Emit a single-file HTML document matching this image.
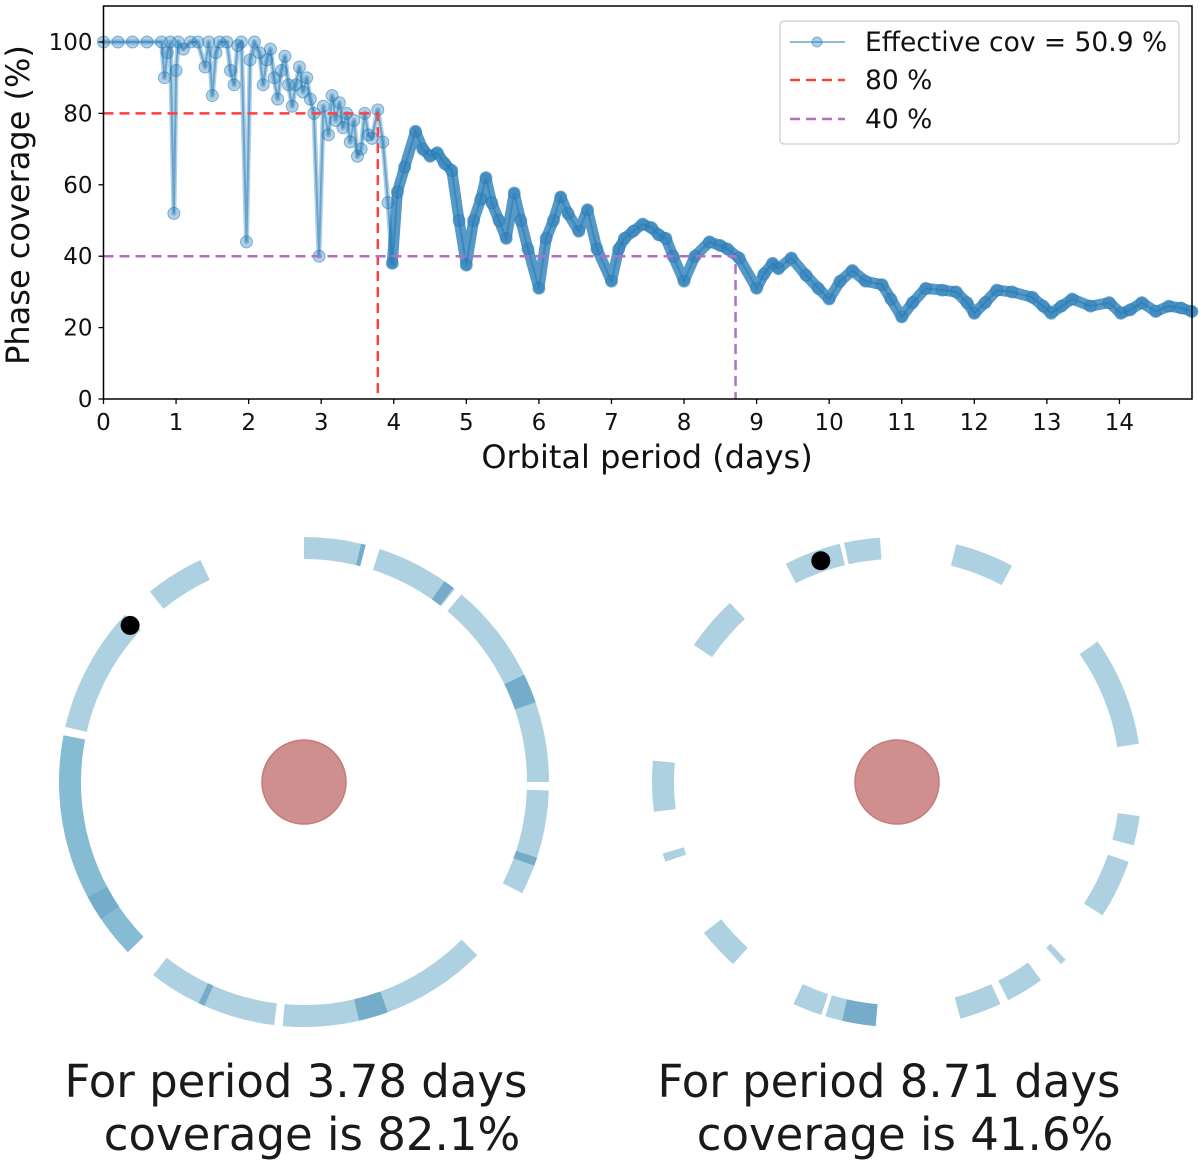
<!DOCTYPE html>
<html><head><meta charset="utf-8">
<style>
html,body{margin:0;padding:0;background:#fff;}
svg{display:block;font-family:"DejaVu Sans","Liberation Sans",sans-serif;}
</style></head>
<body>
<svg id="fig" width="1200" height="1169" viewBox="0 0 1200 1169" xmlns="http://www.w3.org/2000/svg">
<g id="chart"></g>
<g id="orbits"></g>
<text x="296" y="1097" font-size="45" text-anchor="middle" fill="#1a1a1a">For period 3.78 days</text>
<text x="312" y="1150" font-size="45" text-anchor="middle" fill="#1a1a1a">coverage is 82.1%</text>
<text x="889" y="1097" font-size="45" text-anchor="middle" fill="#1a1a1a">For period 8.71 days</text>
<text x="905" y="1150" font-size="45" text-anchor="middle" fill="#1a1a1a">coverage is 41.6%</text>
</svg>
<script>
const periods = [0,0.2,0.4,0.6,0.8,0.84,0.88,0.92,0.97,1.0,1.03,1.1,1.2,1.3,1.4,1.45,1.5,1.55,1.6,1.7,1.75,1.8,1.85,1.9,1.97,2.02,2.08,2.15,2.2,2.25,2.3,2.35,2.4,2.45,2.5,2.55,2.6,2.65,2.7,2.75,2.8,2.85,2.9,2.97,3.03,3.1,3.15,3.2,3.25,3.3,3.35,3.4,3.45,3.5,3.55,3.6,3.65,3.7,3.78,3.85,3.92,3.98,4.05,4.15,4.3,4.4,4.5,4.6,4.7,4.8,4.9,5.0,5.1,5.2,5.27,5.35,5.45,5.55,5.66,5.75,5.85,6.0,6.1,6.2,6.3,6.4,6.55,6.67,6.8,7.0,7.1,7.18,7.3,7.43,7.55,7.65,7.75,7.85,8.0,8.15,8.35,8.5,8.6,8.76,9.0,9.1,9.22,9.3,9.48,9.68,9.85,10.0,10.15,10.32,10.5,10.73,10.85,11.0,11.15,11.33,11.56,11.75,11.9,12.0,12.15,12.31,12.52,12.8,12.95,13.06,13.2,13.35,13.6,13.86,14.02,14.15,14.31,14.5,14.68,14.85,15.0];
const coverage = [100,100,100,100,100,90,97,100,52,92,100,98,100,100,93,100,85,97,100,100,92,88,99,100,44,95,100,97,88,95,98,90,84,92,96,88,82,88,93,86,90,84,80,40,82,74,85,78,83,76,80,72,78,68,70,80,74,73,81,72,55,38,58,65,75,70,68,69,66,64,50,37.5,50,56,62,55,50,45,57.7,50,42,31,45,50,56.6,52,47,53,42,33,42,45,47,49,48,46,45,40,33,40,44,43,42,39.5,31,35,38,36.5,39.5,34.7,31,28,33,36,33,32,28,23,27,31,30.5,30,27,24,27,30.5,30,28.5,26,24,26,28,26,27,24,25,27,24.5,26,25.5,24.5];
const xTicks = [0,1,2,3,4,5,6,7,8,9,10,11,12,13,14];
const yTicks = [0,20,40,60,80,100];
const refLevels = [80,40];
const refPeriods = [3.78,8.71];
const refColors = ["#ff4040","#b46fc4"];
const legendLabels = ["Effective cov = 50.9 %","80 %","40 %"];

const leftArcs = [[0,14,0],[13.5,14.6,2],[18,38,0],[35,37.6,2],[40,90,0],[64,71,2],[92,117,0],[108,110,2],[135,185,0],[160,167,2],[187,218,0],[204,205.5,2],[226,281,1],[236,242,2],[283,313,0],[321,335,0]];
const rightArcs = [[333,346.5,0],[347.5,356,0],[14,28,0],[55,81,0],[98,105,0],[109,123,0],[136.5,138,0],[144,153,0],[155,165,0],[185,193,2],[193,197,0],[198,205,0],[222,232,0],[251,253,0],[263,275,0],[304,317,0]];
const leftDot = 312, rightDot = 341;

const NS = "http://www.w3.org/2000/svg";
function mk(tag, attrs, parent){const e=document.createElementNS(NS,tag);for(const k in attrs)e.setAttribute(k,attrs[k]);parent.appendChild(e);return e;}
const X0=103.5,X1=1192,Y0=399,Y1=6;
const xs = p => X0 + p*(X1-X0)/15;
const ys = c => Y0 - c*(Y0-42)/100;
const chart = document.getElementById('chart');

const pathOf = idx => idx.map((i,k)=>(k?'L':'M')+xs(periods[i]).toFixed(1)+','+ys(coverage[i]).toFixed(1)).join(' ');
const all = periods.map((p,i)=>i);
const early = all.filter(i=>periods[i]<=4.0);
const late = all.filter(i=>periods[i]>=3.98);
const bandE = mk('path',{d:pathOf(early),fill:'none',stroke:'#1f77b4','stroke-width':5,'stroke-opacity':0.35,'stroke-linejoin':'round','stroke-linecap':'round'},chart);


const bandL = mk('path',{d:pathOf(late),fill:'none',stroke:'#1f77b4','stroke-width':11,'stroke-opacity':0.75,'stroke-linejoin':'round','stroke-linecap':'round'},chart);


const line = mk('path',{d:pathOf(all),fill:'none',stroke:'#1f77b4','stroke-width':2,'stroke-opacity':0.5},chart);


periods.forEach((p,i)=>{
  const c = mk('circle',{cx:xs(p),cy:ys(coverage[i]),r:6,fill:'#1f77b4','fill-opacity':0.35,stroke:'#1f77b4','stroke-opacity':0.5,'stroke-width':1},chart);
  
  
});
refLevels.forEach((lv,i)=>{
  const h = mk('path',{d:`M${X0},${ys(lv)} H${xs(refPeriods[i])} V${Y0}`,fill:'none',stroke:refColors[i],'stroke-width':2.5,'stroke-dasharray':'10,6'},chart);
  
  
});
const fr = mk('rect',{x:X0,y:Y1,width:X1-X0,height:Y0-Y1,fill:'none',stroke:'#000','stroke-width':1.5},chart);


xTicks.forEach(t=>{
  const tk = mk('line',{x1:xs(t),x2:xs(t),y1:Y0,y2:Y0+5,stroke:'#000','stroke-width':1.3},chart);
  
  
  const tl = mk('text',{x:xs(t),y:Y0+31,'font-size':23,'text-anchor':'middle',fill:'#111'},chart);
  tl.textContent = t;
  
  
});
yTicks.forEach(t=>{
  const tk = mk('line',{x1:X0-5,x2:X0,y1:ys(t),y2:ys(t),stroke:'#000','stroke-width':1.3},chart);
  
  
  const tl = mk('text',{x:X0-11,y:ys(t)+8,'font-size':23,'text-anchor':'end',fill:'#111'},chart);
  tl.textContent = t;
  
  
});
const xt = mk('text',{x:647,y:468,'font-size':32,'text-anchor':'middle',fill:'#111'},chart);
xt.textContent='Orbital period (days)';


const yt = mk('text',{x:0,y:0,'font-size':32,'text-anchor':'middle',fill:'#111',transform:'translate(29,205) rotate(-90)'},chart);
yt.textContent='Phase coverage (%)';


const lg = mk('g',{},chart);


mk('rect',{x:780,y:21,width:399,height:123,rx:4,fill:'#fff','fill-opacity':0.85,stroke:'#ccc','stroke-width':1.2},lg);
const ly=[42,80,119];
legendLabels.forEach((lab,i)=>{
  const e = mk('g',{},lg);
  
  
  if(i==0){
    mk('line',{x1:790,x2:845,y1:ly[i],y2:ly[i],stroke:'#1f77b4','stroke-width':2,'stroke-opacity':0.5},e);
    mk('circle',{cx:817,cy:ly[i],r:5,fill:'#1f77b4','fill-opacity':0.35,stroke:'#1f77b4','stroke-opacity':0.5},e);
  } else {
    mk('line',{x1:790,x2:845,y1:ly[i],y2:ly[i],stroke:refColors[i-1],'stroke-width':2.5,'stroke-dasharray':'10,6'},e);
  }
  const t = mk('text',{x:865,y:ly[i]+9,'font-size':26.5,fill:'#111'},e);
  t.textContent = lab;
});

const orb = document.getElementById('orbits');
const R_OUT=245, R_IN=223;
const shades=['#aed1e1','#86bbd4','#74acca'];
function pt(cx,cy,r,b){const a=b*Math.PI/180;return [cx+r*Math.sin(a), cy-r*Math.cos(a)];}
function drawOrbit(cx,cy,arcs,dotB,name){
  const g = mk('g',{},orb);
  
  
  arcs.forEach(a=>{
    const [s,e,dk]=a;
    const large = (e-s)>180?1:0;
    const p1=pt(cx,cy,R_OUT,s),p2=pt(cx,cy,R_OUT,e),p3=pt(cx,cy,R_IN,e),p4=pt(cx,cy,R_IN,s);
    const path = mk('path',{d:`M${p1[0]},${p1[1]} A${R_OUT},${R_OUT} 0 ${large} 1 ${p2[0]},${p2[1]} L${p3[0]},${p3[1]} A${R_IN},${R_IN} 0 ${large} 0 ${p4[0]},${p4[1]} Z`,fill:shades[dk]},g);
    
    
  });
  const st = mk('circle',{cx:cx,cy:cy,r:42,fill:'#d08f8f',stroke:'#c77a7a','stroke-width':1.5},g);
  
  
  const dp = pt(cx,cy,(R_OUT+R_IN)/2,dotB);
  const pl = mk('circle',{cx:dp[0],cy:dp[1],r:9.5,fill:'#000'},g);
  
  
}
drawOrbit(304,782,leftArcs,leftDot,'orbit-left');
drawOrbit(897,782,rightArcs,rightDot,'orbit-right');
</script>
</body></html>
